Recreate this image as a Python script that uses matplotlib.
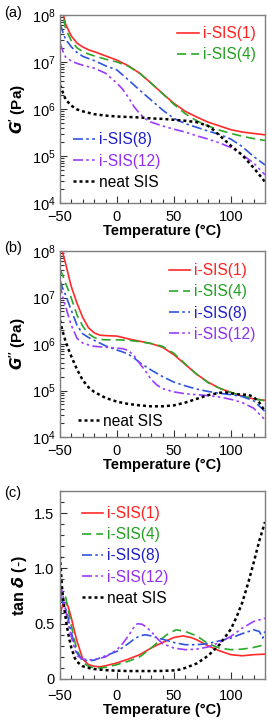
import matplotlib
matplotlib.use("Agg")
import matplotlib.pyplot as plt
import numpy as np
from matplotlib.ticker import MultipleLocator, LogLocator, NullFormatter

plt.rcParams['font.family'] = ['Liberation Sans', 'DejaVu Sans']
plt.rcParams['mathtext.fontset'] = 'custom'
plt.rcParams['mathtext.rm'] = 'Liberation Sans'
plt.rcParams['mathtext.it'] = 'Liberation Sans:italic'
plt.rcParams['mathtext.bf'] = 'Liberation Sans:bold'

labels = ["i-SIS(1)", "i-SIS(4)", "i-SIS(8)", "i-SIS(12)", "neat SIS"]
colors = ["#ff2a2a", "#2aa82a", "#2f55e0", "#9b3cff", "#000000"]
text_colors = ["#ff2020", "#22a022", "#2020c8", "#9030f0", "#000000"]

# ---- Panel (a): G' (log10 Pa) ----
Ta1 = [-50, -47, -45, -40, -35, -30, -25, -20, -10, 0, 10, 20, 30, 40, 50, 60, 70, 80, 90, 100, 110, 120, 130]
Ga1 = [8.3, 8.0, 7.8, 7.55, 7.40, 7.32, 7.26, 7.22, 7.13, 7.04, 6.92, 6.76, 6.55, 6.33, 6.12, 5.95, 5.83, 5.72, 5.64, 5.56, 5.51, 5.48, 5.45]
Ta4 = [-50, -47, -45, -40, -35, -30, -25, -20, -10, 0, 10, 20, 30, 40, 50, 60, 70, 80, 90, 100, 110, 120, 130]
Ga4 = [8.2, 7.95, 7.7, 7.45, 7.30, 7.22, 7.17, 7.13, 7.06, 7.00, 6.91, 6.76, 6.55, 6.33, 6.10, 5.90, 5.75, 5.64, 5.55, 5.48, 5.42, 5.37, 5.33]
Ta8 = [-50, -47, -45, -40, -35, -30, -20, -10, 0, 10, 20, 30, 40, 50, 60, 70, 80, 90, 100, 110, 120, 130]
Ga8 = [7.82, 7.60, 7.48, 7.32, 7.20, 7.12, 7.03, 6.92, 6.83, 6.62, 6.40, 6.19, 5.98, 5.80, 5.69, 5.61, 5.53, 5.46, 5.36, 5.20, 4.99, 4.81]
Ta12 = [-50, -47, -45, -40, -35, -30, -20, -10, 0, 5, 10, 15, 20, 25, 30, 40, 50, 60, 70, 80, 90, 100, 110, 120, 130]
Ga12 = [7.40, 7.20, 7.10, 7.02, 6.97, 6.93, 6.87, 6.76, 6.55, 6.42, 6.25, 6.05, 5.90, 5.79, 5.72, 5.64, 5.57, 5.51, 5.43, 5.36, 5.28, 5.18, 5.03, 4.85, 4.60]
Tan = [-50, -47, -45, -40, -35, -30, -20, -10, 0, 10, 20, 30, 40, 50, 60, 70, 80, 85, 90, 100, 110, 120, 130]
Gan = [6.51, 6.32, 6.20, 6.07, 5.99, 5.95, 5.89, 5.86, 5.84, 5.83, 5.82, 5.80, 5.79, 5.77, 5.75, 5.72, 5.64, 5.55, 5.44, 5.22, 5.02, 4.75, 4.45]

# ---- Panel (b): G'' (log10 Pa) ----
Tb1 = [-50, -48, -45, -42, -40, -35, -30, -25, -20, -15, -10, 0, 10, 20, 30, 40, 50, 60, 70, 80, 90, 100, 110, 120, 130]
Gb1 = [8.2, 8.0, 7.72, 7.42, 7.23, 6.87, 6.57, 6.35, 6.24, 6.19, 6.18, 6.17, 6.11, 6.06, 6.01, 5.93, 5.77, 5.56, 5.35, 5.18, 5.05, 4.96, 4.88, 4.82, 4.79]
Tb4 = [-50, -48, -45, -42, -40, -35, -30, -25, -20, -15, -10, 0, 10, 20, 30, 40, 50, 60, 70, 80, 90, 100, 110, 120, 130]
Gb4 = [7.60, 7.50, 7.30, 7.12, 6.98, 6.62, 6.38, 6.22, 6.14, 6.10, 6.09, 6.09, 6.08, 6.05, 6.01, 5.95, 5.80, 5.57, 5.35, 5.17, 5.05, 4.96, 4.88, 4.82, 4.78]
Tb8 = [-50, -48, -45, -42, -40, -35, -30, -25, -20, -10, 0, 5, 10, 15, 20, 30, 40, 50, 60, 70, 80, 90, 100, 110, 120, 130]
Gb8 = [7.37, 7.22, 7.05, 6.85, 6.72, 6.40, 6.22, 6.14, 6.08, 5.96, 5.87, 5.83, 5.78, 5.70, 5.60, 5.44, 5.30, 5.18, 5.10, 5.03, 4.98, 4.94, 4.91, 4.87, 4.78, 4.55]
Tb12 = [-50, -48, -45, -42, -40, -35, -30, -25, -20, -10, 0, 5, 10, 15, 20, 25, 30, 35, 40, 50, 60, 70, 80, 90, 100, 110, 120, 130]
Gb12 = [7.30, 7.05, 6.80, 6.55, 6.40, 6.12, 6.02, 5.98, 5.95, 5.93, 5.91, 5.90, 5.86, 5.75, 5.58, 5.42, 5.24, 5.12, 5.04, 4.97, 4.93, 4.91, 4.89, 4.86, 4.81, 4.74, 4.62, 4.37]
Tbn = [-50, -48, -45, -42, -40, -35, -30, -25, -20, -10, 0, 10, 20, 30, 40, 50, 60, 70, 80, 90, 95, 100, 105, 110, 115, 120, 125, 130]
Gbn = [6.51, 6.30, 6.05, 5.85, 5.73, 5.45, 5.22, 5.07, 4.97, 4.84, 4.76, 4.71, 4.68, 4.66, 4.66, 4.68, 4.74, 4.82, 4.90, 4.95, 4.96, 4.94, 4.92, 4.91, 4.91, 4.86, 4.74, 4.55]

# ---- Panel (c): tan delta ----
Tc1 = [-50, -49, -47, -45, -43, -40, -37, -35, -30, -25, -20, -15, -10, 0, 10, 20, 30, 40, 50, 58, 65, 70, 80, 90, 100, 110, 120, 130]
tc1 = [0.49, 0.62, 0.69, 0.69, 0.66, 0.55, 0.42, 0.34, 0.18, 0.13, 0.115, 0.11, 0.12, 0.145, 0.18, 0.22, 0.28, 0.33, 0.375, 0.39, 0.375, 0.355, 0.30, 0.255, 0.22, 0.21, 0.22, 0.225]
Tc4 = [-50, -49, -47, -45, -43, -40, -37, -35, -30, -25, -20, -15, -10, 0, 10, 20, 30, 40, 45, 52, 60, 70, 80, 90, 100, 110, 120, 130]
tc4 = [0.70, 0.76, 0.78, 0.74, 0.64, 0.48, 0.34, 0.26, 0.15, 0.115, 0.10, 0.10, 0.105, 0.13, 0.16, 0.20, 0.28, 0.37, 0.41, 0.445, 0.43, 0.39, 0.32, 0.28, 0.265, 0.27, 0.285, 0.31]
Tc8 = [-50, -48, -46, -44, -40, -37, -35, -30, -25, -20, -10, 0, 10, 15, 20, 25, 30, 40, 50, 60, 70, 80, 90, 100, 110, 120, 125, 128, 130]
tc8 = [0.75, 0.70, 0.66, 0.60, 0.42, 0.30, 0.235, 0.17, 0.165, 0.17, 0.21, 0.25, 0.32, 0.36, 0.39, 0.40, 0.39, 0.36, 0.33, 0.31, 0.31, 0.32, 0.345, 0.37, 0.41, 0.445, 0.43, 0.37, 0.43]
Tc12 = [-50, -48, -46, -44, -40, -37, -35, -30, -25, -20, -10, 0, 5, 10, 15, 18, 22, 25, 30, 35, 40, 50, 60, 70, 80, 90, 100, 110, 120, 130]
tc12 = [0.87, 0.78, 0.68, 0.56, 0.38, 0.27, 0.21, 0.18, 0.175, 0.175, 0.20, 0.265, 0.32, 0.39, 0.47, 0.50, 0.495, 0.475, 0.43, 0.37, 0.32, 0.28, 0.265, 0.27, 0.29, 0.33, 0.385, 0.46, 0.52, 0.55]
Tcn = [-50, -49, -48, -46, -44, -42, -40, -37, -35, -30, -25, -20, -10, 0, 10, 20, 30, 40, 50, 55, 60, 70, 80, 90, 95, 100, 105, 110, 115, 120, 125, 130]
tcn = [1.11, 0.95, 0.80, 0.62, 0.48, 0.37, 0.28, 0.19, 0.155, 0.115, 0.10, 0.09, 0.08, 0.075, 0.072, 0.072, 0.072, 0.073, 0.078, 0.085, 0.10, 0.14, 0.21, 0.31, 0.38, 0.45, 0.56, 0.69, 0.86, 1.05, 1.25, 1.42]

lss = ['-', (0, (5.5, 3)), (0, (6, 2, 1.5, 2)), (0, (6, 2, 1.5, 2, 1.5, 2)), (0, (1.2, 1.2))]
lws = [1.2, 1.2, 1.2, 1.2, 1.8]

FS = 10.5
LFS = 11.2
fig = plt.figure(figsize=(2.68, 7.22), dpi=100)
L, R = 60 / 268, 265 / 268
def ax_rect(top_px, bot_px):
    return [L, 1 - bot_px / 722, R - L, (bot_px - top_px) / 722]

axa = fig.add_axes(ax_rect(15, 203))
axb = fig.add_axes(ax_rect(251, 437))
axc = fig.add_axes(ax_rect(491, 679))

def style(ax, xpad=5):
    for s in ax.spines.values():
        s.set_color('#7f7f7f')
        s.set_linewidth(1.0)
    ax.set_xlim(-50, 130)
    ax.xaxis.set_major_locator(MultipleLocator(50))
    ax.xaxis.set_minor_locator(MultipleLocator(10))
    ax.tick_params(which='both', direction='in', top=False, right=False, labelsize=FS, color='#333333')
    ax.tick_params(axis='x', which='both', pad=xpad)
    ax.tick_params(axis='y', which='both', pad=3)
    ax.tick_params(which='major', length=5, width=0.8)
    ax.tick_params(which='minor', length=3, width=0.8)
    ax.set_xlabel('Temperature (°C)', fontsize=FS, fontweight='bold', labelpad=0)

def plot_log(ax, data):
    lines = []
    for (T, g), c, ls, lw, lab in zip(data, colors, lss, lws, labels):
        ln, = ax.plot(T, 10 ** np.array(g), color=c, ls=ls, lw=lw, label=lab)
        lines.append(ln)
    ax.set_yscale('log')
    ax.set_ylim(1e4, 1e8)
    ax.yaxis.set_major_locator(LogLocator(base=10, numticks=10))
    ax.yaxis.set_minor_locator(LogLocator(base=10, subs=np.arange(2, 10), numticks=20))
    ax.yaxis.set_minor_formatter(NullFormatter())
    return lines

def color_leg(leg, idx):
    for t, i in zip(leg.get_texts(), idx):
        t.set_color(text_colors[i])

legkw = dict(frameon=False, fontsize=LFS, handlelength=1.4, handletextpad=0.25, labelspacing=0.4, borderaxespad=0.2)

# (a)
la = plot_log(axa, [(Ta1, Ga1), (Ta4, Ga4), (Ta8, Ga8), (Ta12, Ga12), (Tan, Gan)])
style(axa)
axa.set_ylabel(r"$\mathbfit{G}\mathbf{'\ (Pa)}$", fontsize=11, labelpad=2)
leg1 = axa.legend(la[:2], labels[:2], loc='upper right', bbox_to_anchor=(1.0, 0.99), **legkw)
color_leg(leg1, [0, 1])
axa.add_artist(leg1)
leg2 = axa.legend(la[2:], labels[2:], loc='lower left', bbox_to_anchor=(0.02, 0.02), **legkw)
color_leg(leg2, [2, 3, 4])

# (b)
lb = plot_log(axb, [(Tb1, Gb1), (Tb4, Gb4), (Tb8, Gb8), (Tb12, Gb12), (Tbn, Gbn)])
style(axb)
axb.set_ylabel(r"$\mathbfit{G}\mathbf{''\ (Pa)}$", fontsize=11, labelpad=2)
leg3 = axb.legend(lb[:4], labels[:4], loc='upper right', bbox_to_anchor=(1.0, 0.985), **legkw)
color_leg(leg3, [0, 1, 2, 3])
axb.add_artist(leg3)
leg4 = axb.legend(lb[4:], labels[4:], loc='lower left', bbox_to_anchor=(0.04, -0.005), **legkw)
color_leg(leg4, [4])

# (c)
lc = []
for (T, v), c, ls, lw, lab in zip([(Tc1, tc1), (Tc4, tc4), (Tc8, tc8), (Tc12, tc12), (Tcn, tcn)], colors, lss, lws, labels):
    ln, = axc.plot(T, v, color=c, ls=ls, lw=lw, label=lab)
    lc.append(ln)
style(axc, xpad=7)
axc.set_ylim(0, 1.7)
axc.yaxis.set_major_locator(MultipleLocator(0.5))
axc.yaxis.set_minor_locator(MultipleLocator(0.1))
axc.yaxis.set_major_formatter(matplotlib.ticker.FuncFormatter(lambda v, p: '0' if v == 0 else f'{v:.1f}'))
axc.tick_params(axis='y', which='both', pad=4)
axc.set_ylabel(r"$\mathbf{tan}\ \mathbfit{\delta}\ \mathbf{(\text{-})}$", fontsize=11.5, labelpad=4)
leg5 = axc.legend(lc, labels, loc='upper left', bbox_to_anchor=(0.06, 0.97), **legkw)
color_leg(leg5, [0, 1, 2, 3, 4])

for y, s in [(13, '(a)'), (248, '(b)'), (493, '(c)')]:
    fig.text(4 / 268, 1 - y / 722, s, fontsize=FS, va='center', ha='left')

fig.savefig('out.png', dpi=100)
